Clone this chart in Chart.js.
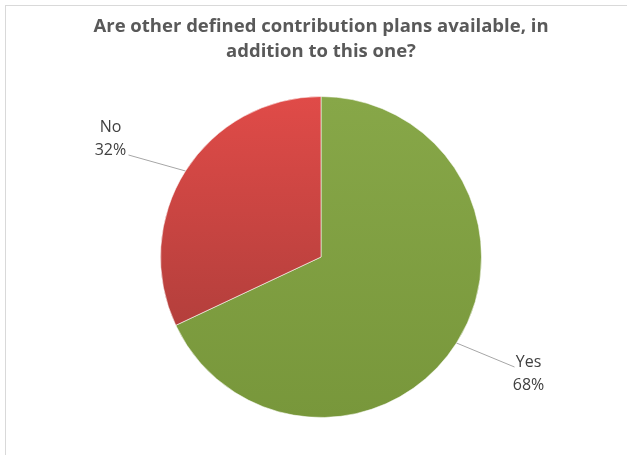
<!DOCTYPE html>
<html>
<head>
<meta charset="utf-8">
<script src="https://cdn.jsdelivr.net/npm/chart.js@4"></script>
<style>
  html, body { margin: 0; padding: 0; background: #fff; }
  #wrap { width: 627px; height: 455px; }
</style>
</head>
<body>
<div id="wrap"><canvas id="grafico" width="627" height="455"></canvas></div>
<script>
// dati del grafico
const titleLines = ['Are other defined contribution plans available, in', 'addition to this one?'];
const categories = ['Yes', 'No'];
const percentages = [68, 32];

// colori: chiaro in alto, scuro in basso
const topColors = ['#87a748', '#e04b48'];
const bottomColors = ['#78973b', '#a23a37'];

function sliceFill(ctx) {
  const chart = ctx.chart;
  const area = chart.chartArea;
  const i = ctx.dataIndex;
  if (!area) return topColors[i];
  const g = chart.ctx.createLinearGradient(0, area.top, 0, area.bottom);
  g.addColorStop(0, topColors[i]);
  g.addColorStop(1, bottomColors[i]);
  return g;
}

// cornice grigia attorno al grafico
const frame = {
  id: 'frame',
  beforeDraw(chart) {
    const c = chart.ctx;
    c.save();
    c.strokeStyle = '#d9d9d9';
    c.lineWidth = 1;
    c.strokeRect(5.5, 5.5, chart.width + 10, chart.height + 10);
    c.restore();
  }
};

// etichette esterne con linea di richiamo
const outLabels = {
  id: 'outLabels',
  afterDatasetsDraw(chart, args, opts) {
    const c = chart.ctx;
    const meta = chart.getDatasetMeta(0);
    c.save();
    c.font = opts.font;
    c.fillStyle = '#404040';
    c.textAlign = 'center';
    c.textBaseline = 'middle';
    meta.data.forEach((arc, i) => {
      const mid = (arc.startAngle + arc.endAngle) / 2;
      const ex = arc.x + Math.cos(mid) * arc.outerRadius;
      const ey = arc.y + Math.sin(mid) * arc.outerRadius;
      const [lx, ly] = opts.leader[i];
      const [tx, ty] = opts.text[i];
      c.strokeStyle = '#a6a6a6';
      c.lineWidth = 1;
      c.beginPath();
      c.moveTo(ex, ey);
      c.lineTo(ex + lx, ey + ly);
      c.stroke();
      const px = ex + lx + tx;
      const py = ey + ly + ty;
      c.fillText(categories[i], px, py);
      c.fillText(percentages[i] + '%', px, py + opts.lineGap);
    });
    c.restore();
  }
};

new Chart('grafico', {
  type: 'pie',
  data: {
    labels: categories,
    datasets: [{
      data: percentages,
      backgroundColor: sliceFill,
      borderColor: 'rgba(255,255,255,0.55)',
      borderWidth: 1
    }]
  },
  options: {
    responsive: false,
    animation: false,
    layout: { padding: { top: 0, bottom: 37, left: 15, right: 0 } },
    plugins: {
      legend: { display: false },
      tooltip: { enabled: false },
      title: {
        display: true,
        text: titleLines,
        color: '#595959',
        font: { family: "'Open Sans', sans-serif", size: 18.5, weight: 'bold', lineHeight: '25px' },
        padding: { top: 14.5, bottom: 31.5 }
      },
      outLabels: {
        font: "16px 'Open Sans', sans-serif",
        lineGap: 23,
        leader: [[58, 24], [-57, -16]],
        text: [[14, -5], [-18, -28]]
      }
    }
  },
  plugins: [frame, outLabels]
});
</script>
</body>
</html>
